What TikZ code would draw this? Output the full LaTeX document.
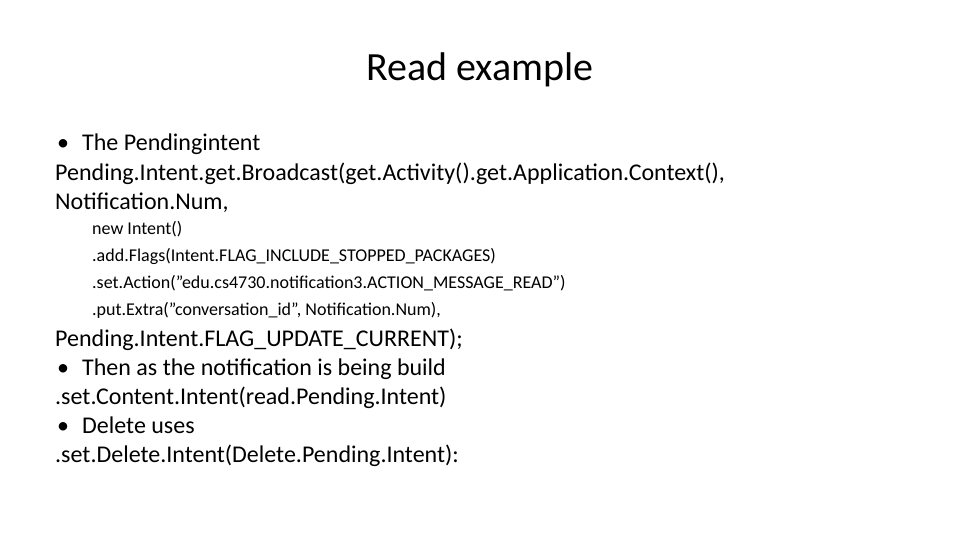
\documentclass[tikz,border=0pt]{standalone}
\usepackage{fontspec}
\setmainfont{Carlito}
\begin{document}
\begin{tikzpicture}[x=1pt,y=-1pt,
  big/.style={anchor=base west,inner sep=0pt,font=\fontsize{24}{28}\selectfont},
  small/.style={anchor=base west,inner sep=0pt,font=\fontsize{18}{22}\selectfont}]
\useasboundingbox[fill=white] (0,0) rectangle (960,540);
\node[anchor=base,inner sep=0pt,font=\fontsize{40}{48}\selectfont] (title) at (480,81) {Read example};
\node[big] (b1) at (57,151) {\textbullet};
\node[big] (l1) at (82,151) {The Pendingintent};
\node[big] (l2) at (55,180) {Pending.Intent.get.Broadcast(get.Activity().get.Application.Context(),};
\node[big] (l3) at (55,209) {Notification.Num,};
\node[small] (s1) at (92,234) {new Intent()};
\node[small] (s2) at (92,261) {.add.Flags(Intent.FLAG\_INCLUDE\_STOPPED\_PACKAGES)};
\node[small] (s3) at (92,288) {.set.Action("edu.cs4730.notification3.ACTION\_MESSAGE\_READ")};
\node[small] (s4) at (92,315) {.put.Extra("conversation\_id", Notification.Num),};
\node[big] (l4) at (55,346) {Pending.Intent.FLAG\_UPDATE\_CURRENT);};
\node[big] (b2) at (57,375) {\textbullet};
\node[big] (l5) at (82,375) {Then as the notification is being build};
\node[big] (l6) at (55,404) {.set.Content.Intent(read.Pending.Intent)};
\node[big] (b3) at (57,433) {\textbullet};
\node[big] (l7) at (82,433) {Delete uses};
\node[big] (l8) at (55,462) {.set.Delete.Intent(Delete.Pending.Intent):};
\end{tikzpicture}
\end{document}
